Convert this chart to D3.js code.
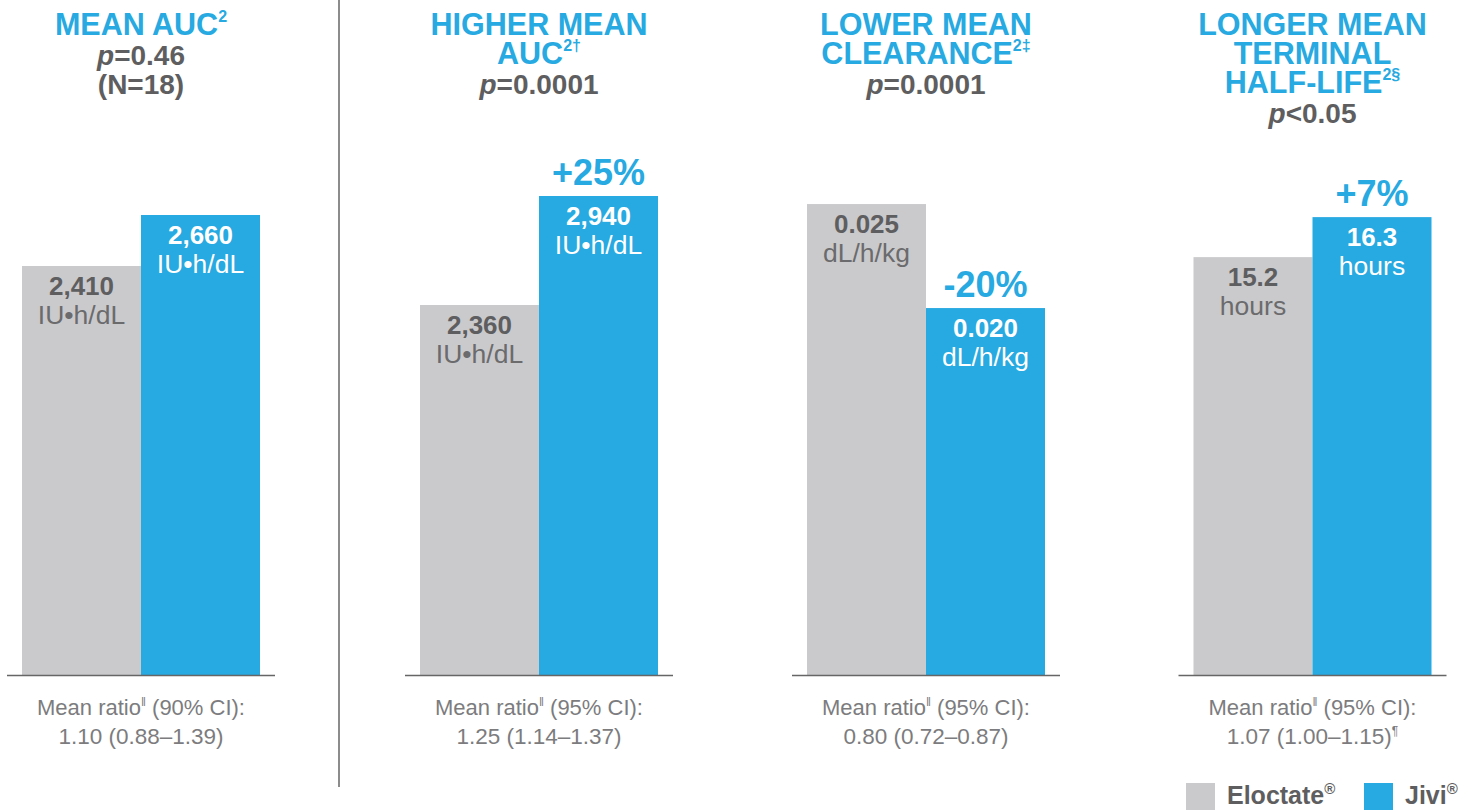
<!DOCTYPE html>
<html>
<head>
<meta charset="utf-8">
<script src="https://cdn.jsdelivr.net/npm/d3@7"></script>
<style>
  html, body { margin: 0; padding: 0; background: #fff; }
  svg { display: block; font-family: "Liberation Sans", Arial, sans-serif; }
</style>
</head>
<body>
<svg id="chart" width="1473" height="810"></svg>
<script>
// ---------- DATA ----------
const series = ["Eloctate®", "Jivi®"];
const titleLines = [
  [["MEAN AUC", "2"]],
  [["HIGHER MEAN", ""], ["AUC", "2†"]],
  [["LOWER MEAN", ""], ["CLEARANCE", "2‡"]],
  [["LONGER MEAN", ""], ["TERMINAL", ""], ["HALF-LIFE", "2§"]]
];
const pValues = ["=0.46", "=0.0001", "=0.0001", "<0.05"];
const extraLines = ["(N=18)", "", "", ""];
const eloctateValues = [2410, 2360, 0.025, 15.2];
const jiviValues = [2660, 2940, 0.020, 16.3];
const valueLabels = [["2,410", "2,660"], ["2,360", "2,940"], ["0.025", "0.020"], ["15.2", "16.3"]];
const unitLabels = ["IU•h/dL", "IU•h/dL", "dL/h/kg", "hours"];
const changeLabels = ["", "+25%", "-20%", "+7%"];
const ciLevels = ["90% CI", "95% CI", "95% CI", "95% CI"];
const ratioLabels = ["1.10 (0.88–1.39)", "1.25 (1.14–1.37)", "0.80 (0.72–0.87)", "1.07 (1.00–1.15)"];
const ratioSup = ["", "", "", "¶"];
// per-panel value axis extents (each panel drawn on its own scale)
const yDomainLo = [405, 391, 0.00236, 3.71];
const yDomainHi = [3714, 3983, 0.03481, 22.27];

// ---------- STYLE / LAYOUT ----------
const BLUE = "#27a9e1", GRAY = "#cacacc", DARK = "#5e5e60", MID = "#6b6b6d", LIGHT = "#7c7c7e";
const svg = d3.select("#chart");
const baseY = 675;
const panelCenters = [141, 539, 926, 1312.5];
const barHalf = 119, axisHalf = 134;
const colors = [GRAY, BLUE];

// divider
svg.append("line").attr("x1", 339).attr("x2", 339).attr("y1", 0).attr("y2", 787)
  .attr("stroke", "#666").attr("stroke-width", 1.5);

panelCenters.forEach((cx, i) => {
  const g = svg.append("g");
  const x = d3.scaleBand().domain(series).range([cx - barHalf, cx + barHalf]).padding(0);
  const y = d3.scaleLinear().domain([yDomainLo[i], yDomainHi[i]]).range([baseY, 0]);
  const vals = [eloctateValues[i], jiviValues[i]];

  // title
  let lineY = 35;
  const tl = titleLines[i];
  tl.forEach(([main, sup]) => {
    const t = g.append("text").attr("x", cx).attr("y", lineY).attr("text-anchor", "middle")
      .attr("fill", BLUE).attr("font-weight", "bold").attr("font-size", 30.5).text(main);
    if (sup) t.append("tspan").attr("font-size", 16).attr("dy", -13).text(sup);
    lineY += 29;
  });
  const pt = g.append("text").attr("x", cx).attr("y", lineY + 1).attr("text-anchor", "middle")
    .attr("fill", DARK).attr("font-weight", "bold").attr("font-size", 28);
  pt.append("tspan").attr("font-style", "italic").text("p");
  pt.append("tspan").text(pValues[i]);
  lineY += 29;
  if (extraLines[i]) {
    g.append("text").attr("x", cx).attr("y", lineY + 1).attr("text-anchor", "middle")
      .attr("fill", DARK).attr("font-weight", "bold").attr("font-size", 28).text(extraLines[i]);
  }

  // bars
  g.selectAll("rect.bar").data(vals).join("rect").attr("class", "bar")
    .attr("x", (d, j) => x(series[j]))
    .attr("width", x.bandwidth())
    .attr("y", d => y(d))
    .attr("height", d => baseY - y(d))
    .attr("fill", (d, j) => colors[j]);

  // value + unit labels
  vals.forEach((v, j) => {
    const bx = x(series[j]) + x.bandwidth() / 2;
    const top = y(v);
    g.append("text").attr("x", bx).attr("y", top + 29).attr("text-anchor", "middle")
      .attr("fill", j === 0 ? DARK : "#fff").attr("font-weight", "bold").attr("font-size", 26)
      .text(valueLabels[i][j]);
    g.append("text").attr("x", bx).attr("y", top + 58).attr("text-anchor", "middle")
      .attr("fill", j === 0 ? MID : "#fff").attr("font-size", 26.5)
      .text(unitLabels[i]);
  });

  // change label above Jivi bar
  if (changeLabels[i]) {
    g.append("text").attr("x", x(series[1]) + x.bandwidth() / 2).attr("y", y(vals[1]) - 11)
      .attr("text-anchor", "middle").attr("fill", BLUE).attr("font-weight", "bold")
      .attr("font-size", 36).text(changeLabels[i]);
  }

  // baseline
  g.append("line").attr("x1", cx - axisHalf).attr("x2", cx + axisHalf)
    .attr("y1", baseY + 0.5).attr("y2", baseY + 0.5).attr("stroke", "#666").attr("stroke-width", 1.5);

  // footnote
  const f1 = g.append("text").attr("x", cx).attr("y", 715).attr("text-anchor", "middle")
    .attr("fill", LIGHT).attr("font-size", 22);
  f1.append("tspan").text("Mean ratio");
  f1.append("tspan").attr("font-size", 12).attr("dy", -9).text("‖");
  f1.append("tspan").attr("dy", 9).text(" (" + ciLevels[i] + "):");
  const f2 = g.append("text").attr("x", cx).attr("y", 744).attr("text-anchor", "middle")
    .attr("fill", LIGHT).attr("font-size", 22.5);
  f2.append("tspan").text(ratioLabels[i]);
  if (ratioSup[i]) f2.append("tspan").attr("font-size", 12).attr("dy", -9).text(ratioSup[i]);
});

// legend
const legendX = [1186, 1364];
series.forEach((s, j) => {
  svg.append("rect").attr("x", legendX[j]).attr("y", 783).attr("width", 29).attr("height", 29)
    .attr("fill", colors[j]);
  const t = svg.append("text").attr("x", legendX[j] + 41).attr("y", 804)
    .attr("fill", DARK).attr("font-weight", "bold").attr("font-size", 25)
    .text(s.replace("®", ""));
  t.append("tspan").attr("font-size", 15).attr("dy", -10).text("®");
});
</script>
</body>
</html>
